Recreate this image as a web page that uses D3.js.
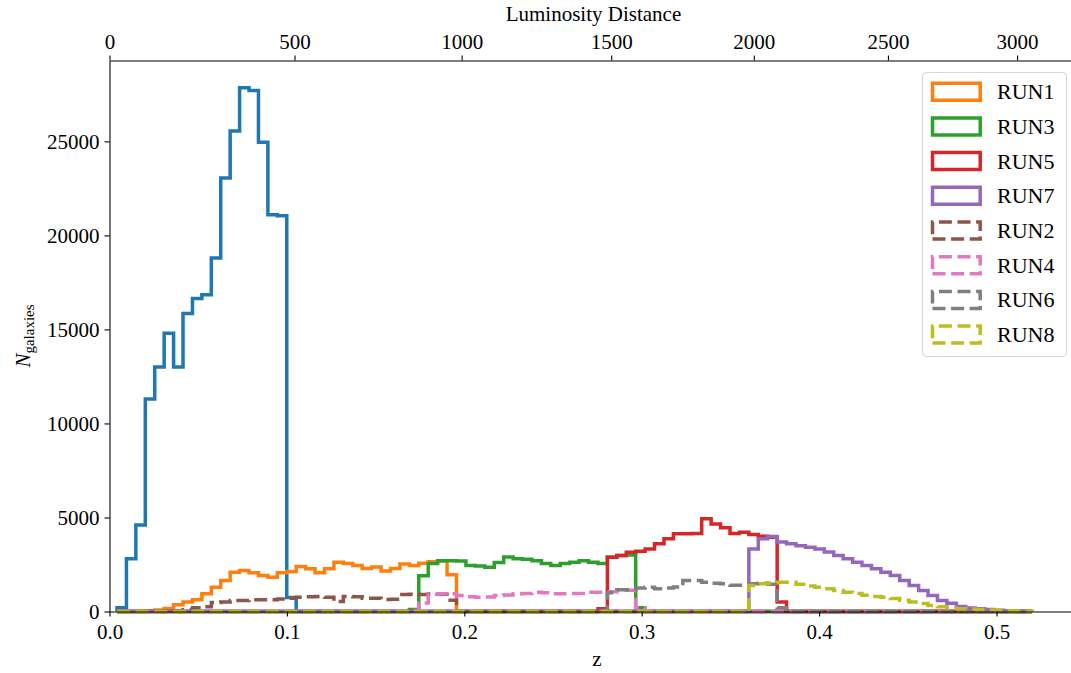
<!DOCTYPE html>
<html>
<head>
<meta charset="utf-8">
<script src="https://cdn.jsdelivr.net/npm/d3@7"></script>
<style>
  body { margin: 0; background: #fff; }
  svg text { font-family: "Liberation Serif", "Times New Roman", serif; fill: #000; }
</style>
</head>
<body>
<svg id="chart" width="1071" height="673"></svg>
<script>
// Shared redshift binning used by every histogram
const binStart = 0.00423;
const binWidth = 0.005316;
const binCount = 97;

// Axis ticks
const zTicks = [0.0, 0.1, 0.2, 0.3, 0.4, 0.5];
const countTicks = [0, 5000, 10000, 15000, 20000, 25000];
const distanceTickLabels = ["0", "500", "1000", "1500", "2000", "2500", "3000"];
const distanceTickZ = [0, 0.1043, 0.1985, 0.2828, 0.3632, 0.4388, 0.5116];

// Galaxy counts per bin (first non-empty bin index + counts)
const allFirstBin = 0;
const allCounts = [200, 2800, 4600, 11300, 13000, 14800, 13000, 15850, 16650, 16850,
  18800, 23050, 25550, 27850, 27700, 24950, 21100, 21050, 750];

const run1FirstBin = 3;
const run1Counts = [40, 80, 160, 356, 500, 620, 940, 1290, 1650, 2090, 2180, 2060, 1915, 1825,
  2060, 2130, 2390, 2270, 2060, 2270, 2620, 2550, 2440, 2280, 2360, 2150, 2280, 2530, 2450,
  2560, 2640, 2680, 1950];

const run3FirstBin = 31;
const run3Counts = [100, 1900, 2550, 2700, 2700, 2680, 2450, 2420, 2350, 2600, 2900, 2800,
  2780, 2700, 2550, 2450, 2550, 2620, 2700, 2620, 2550, 2890, 2980, 3000, 200];

const run5FirstBin = 51;
const run5Counts = [150, 2890, 2980, 3150, 3200, 3330, 3600, 3870, 4130, 4130, 4150, 4930,
  4650, 4450, 4150, 4220, 4100, 4000, 3950, 500];

const run7FirstBin = 67;
const run7Counts = [3330, 3870, 3990, 3690, 3600, 3500, 3420, 3330, 3160, 2980, 2800, 2620,
  2450, 2270, 2090, 1915, 1650, 1380, 1120, 850, 590, 440, 270, 180, 140, 106, 70, 40, 20, 10];

const run2FirstBin = 5;
const run2Counts = [20, 40, 90, 200, 250, 480, 500, 580, 590, 620, 620, 630, 670, 710, 760,
  790, 800, 760, 530, 800, 790, 700, 700, 640, 650, 900, 920, 900, 930, 920, 600];

const run4FirstBin = 31;
const run4Counts = [50, 450, 900, 940, 950, 850, 780, 760, 770, 850, 880, 940, 960, 1030, 1000,
  940, 950, 960, 960, 1030, 1030, 1050, 1130, 1130, 200];

const run6FirstBin = 51;
const run6Counts = [50, 1000, 1150, 1150, 1250, 1290, 1210, 1250, 1300, 1650, 1650, 1560, 1500,
  1470, 1390, 1390, 1470, 1500, 1450, 200];

const run8FirstBin = 67;
const run8Counts = [1380, 1470, 1520, 1560, 1560, 1450, 1350, 1290, 1210, 1120, 1030, 960, 860,
  800, 760, 690, 600, 500, 420, 320, 250, 190, 150, 130, 100, 80, 60, 40, 20, 10];

// Series styling (draw order)
const series = [
  { label: null,   first: allFirstBin,  counts: allCounts,  color: "#1f77b4", dashed: false },
  { label: "RUN1", first: run1FirstBin, counts: run1Counts, color: "#ff7f0e", dashed: false },
  { label: "RUN3", first: run3FirstBin, counts: run3Counts, color: "#2ca02c", dashed: false },
  { label: "RUN5", first: run5FirstBin, counts: run5Counts, color: "#d62728", dashed: false },
  { label: "RUN7", first: run7FirstBin, counts: run7Counts, color: "#9467bd", dashed: false },
  { label: "RUN2", first: run2FirstBin, counts: run2Counts, color: "#8c564b", dashed: true },
  { label: "RUN4", first: run4FirstBin, counts: run4Counts, color: "#e377c2", dashed: true },
  { label: "RUN6", first: run6FirstBin, counts: run6Counts, color: "#7f7f7f", dashed: true },
  { label: "RUN8", first: run8FirstBin, counts: run8Counts, color: "#bcbd22", dashed: true }
];

const svg = d3.select("#chart");
const plotLeft = 109.5, plotRight = 1077.4, plotTop = 60.5, plotBottom = 611.5;

const x = d3.scaleLinear().domain([0, 0.5456]).range([plotLeft, plotRight]);
const y = d3.scaleLinear().domain([0, 29300]).range([plotBottom, plotTop]);

const edges = d3.range(binCount + 1).map(i => binStart + i * binWidth);

// Outline of a step histogram: up the first edge, across each bin, down the last edge
function stepPoints(s) {
  const full = new Array(binCount).fill(0);
  s.counts.forEach((c, i) => { full[s.first + i] = c; });
  const pts = [[edges[0], 0]];
  full.forEach((c, i) => { pts.push([edges[i], c]); pts.push([edges[i + 1], c]); });
  pts.push([edges[binCount], 0]);
  return pts;
}

const line = d3.line().x(d => x(d[0])).y(d => y(d[1]));
const lw = 3.5;
const dash = "13,5.6";

const plot = svg.append("g");
series.forEach(s => {
  plot.append("path")
    .attr("d", line(stepPoints(s)))
    .attr("fill", "none")
    .attr("stroke", s.color)
    .attr("stroke-width", lw)
    .attr("stroke-linejoin", "miter")
    .attr("stroke-linecap", "butt")
    .attr("stroke-dasharray", s.dashed ? dash : null);
});

// Axes
function styleAxis(g) {
  g.selectAll("path.domain").attr("stroke", "#000").attr("stroke-width", 1.1);
  g.selectAll(".tick line").attr("stroke", "#000").attr("stroke-width", 1.1);
  g.selectAll(".tick text").style("font-size", "21px").attr("fill", "#000");
}

svg.append("g")
  .attr("transform", `translate(0,${plotBottom})`)
  .call(d3.axisBottom(x).tickValues(zTicks).tickFormat(d3.format(".1f"))
        .tickSize(5).tickPadding(8).tickSizeOuter(0))
  .call(styleAxis);

svg.append("g")
  .attr("transform", `translate(${plotLeft},0)`)
  .call(d3.axisLeft(y).tickValues(countTicks).tickFormat(d3.format("d"))
        .tickSize(5).tickPadding(5).tickSizeOuter(0))
  .call(styleAxis);

svg.append("g")
  .attr("transform", `translate(0,${plotTop})`)
  .call(d3.axisTop(x).tickValues(distanceTickZ).tickFormat((d, i) => distanceTickLabels[i])
        .tickSize(5).tickPadding(7).tickSizeOuter(0))
  .call(styleAxis);

// Axis titles
svg.append("text")
  .attr("x", 597).attr("y", 666)
  .attr("text-anchor", "middle").style("font-size", "21px").text("z");

svg.append("text")
  .attr("x", (plotLeft + plotRight) / 2).attr("y", 21)
  .attr("text-anchor", "middle").style("font-size", "21px").text("Luminosity Distance");

const ylab = svg.append("text")
  .attr("transform", "translate(30,336) rotate(-90)")
  .attr("text-anchor", "middle").style("font-size", "21px");
ylab.append("tspan").style("font-style", "italic").text("N");
ylab.append("tspan").style("font-size", "15px").attr("dy", 4).text("galaxies");

// Legend
const legendItems = series.filter(s => s.label);
const legend = svg.append("g");
legend.append("rect")
  .attr("x", 922.5).attr("y", 72.5).attr("width", 144).attr("height", 284)
  .attr("rx", 4).attr("fill", "#fff").attr("fill-opacity", 0.8)
  .attr("stroke", "#d6d6d6").attr("stroke-width", 1);

const rowY = d3.scaleLinear().domain([0, 1]).range([91.7, 126.4]);
legendItems.forEach((s, i) => {
  const cy = rowY(i);
  const x0 = 932.5, x1 = 980.2, y0 = cy - 8.5, y1 = cy + 8.5;
  const p = d3.path();
  p.moveTo(x0, y1); p.lineTo(x1, y1); p.lineTo(x1, y0); p.lineTo(x0, y0); p.closePath();
  legend.append("path")
    .attr("d", p.toString())
    .attr("fill", "none")
    .attr("stroke", s.color)
    .attr("stroke-width", lw)
    .attr("stroke-linejoin", "miter")
    .attr("stroke-dasharray", s.dashed ? dash : null);
  legend.append("text")
    .attr("x", 997).attr("y", cy + 7.5)
    .style("font-size", "22px").text(s.label);
});
</script>
</body>
</html>
